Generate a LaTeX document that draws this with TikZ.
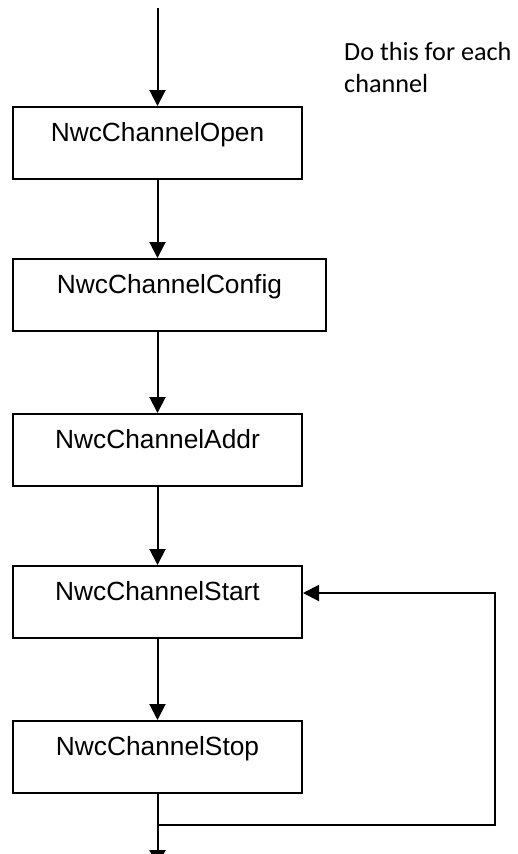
\documentclass[tikz,border=0pt]{standalone}
\usepackage{fontspec}
\setmainfont{Liberation Sans}
\newfontfamily\notefont{Carlito}
\usetikzlibrary{positioning, arrows.meta, calc}

\begin{document}
\begin{tikzpicture}[x=1pt, y=-1pt,
    stepbox/.style={draw, line width=2pt, minimum width=289pt, minimum height=72pt, inner sep=0pt,
        text height=34pt, text depth=38pt, font=\fontsize{26.3}{31}\selectfont},
    flow/.style={line width=2pt, -{Triangle[length=16pt, width=16pt]}}]
    \useasboundingbox (0,0) rectangle (517,854);
    \node (open) [stepbox, anchor=north west] at (12,106) {NwcChannelOpen};
    \node (config) [stepbox, minimum width=313pt, below=78pt of open.south west, anchor=north west] {NwcChannelConfig};
    \node (addr) [stepbox, below=81pt of config.south west, anchor=north west] {NwcChannelAddr};
    \node (start) [stepbox, below=78pt of addr.south west, anchor=north west] {NwcChannelStart};
    \node (stop) [stepbox, below=81pt of start.south west, anchor=north west] {NwcChannelStop};
    % Note beside the first step
    \node (note) [anchor=north west, align=left, inner sep=0pt, font=\notefont\fontsize{26.2}{32.5}\selectfont] at (344,42) {Do this for each\\channel};
    % Flow from top to bottom
    \coordinate (in) at ([yshift=98pt]open.north);
    \coordinate (back) at ([yshift=9pt]start.east);
    \coordinate (loop) at ([yshift=-31pt]stop.south);
    \coordinate (out) at ([yshift=-72pt]stop.south);
    \draw [flow] (in) -- (open.north);
    \draw [flow] (open.south) -- (open.south |- config.north);
    \draw [flow] (open.south |- config.south) -- (addr.north);
    \draw [flow] (addr.south) -- (start.north);
    \draw [flow] (start.south) -- (stop.north);
    \draw [flow] (stop.south) -- (out);
    % Repeat for each channel
    \draw [flow] (loop) -| ($(back)+(192,0)$) -- (back);
\end{tikzpicture}
\end{document}
